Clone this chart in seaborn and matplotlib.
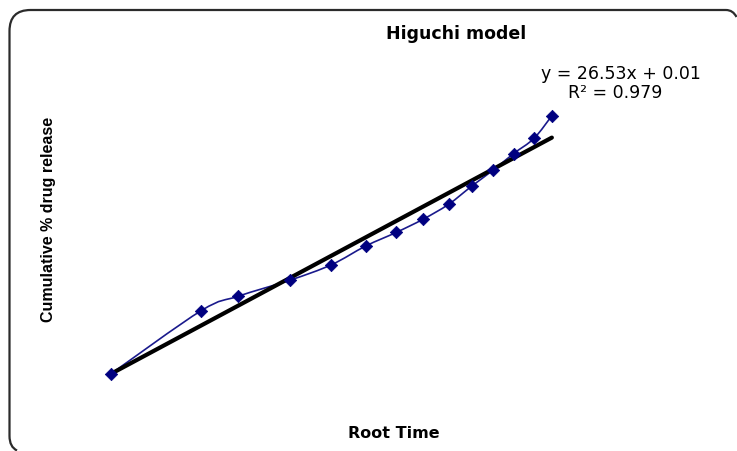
import numpy as np
import matplotlib
matplotlib.use("Agg")
import matplotlib.pyplot as plt
from matplotlib.path import Path
from matplotlib.patches import PathPatch
from matplotlib.transforms import Affine2D
import seaborn as sns
import pandas as pd

# ---- data ----
root_time = [0.0, 0.71, 1.0, 1.41, 1.73, 2.0, 2.24, 2.45, 2.65, 2.83, 3.0, 3.16, 3.32, 3.46]
cum_release = [0.0, 24.6, 30.2, 36.5, 42.4, 49.7, 55.0, 60.1, 65.9, 72.9, 79.2, 85.6, 91.5, 100.3]
slope = 26.53
intercept = 0.01
r2 = 0.979
title = "Higuchi model"
xlabel = "Root Time"
ylabel = "Cumulative % drug release"

sns.set_theme(style="white")
plt.rcParams['font.family'] = ['DejaVu Sans']

W, H = 737, 452
fig = plt.figure(figsize=(W / 100, H / 100), dpi=100)
fig.patch.set_facecolor("white")

ax = fig.add_axes([0, 0, 1, 1])
ax.set_facecolor("none")
# pixel mapping: x0 at 110.7px, 127.5 px/unit ; y0 at 375px from top, 2.575 px/unit
x0, sx = 110.7, 127.5
y0, sy = 375.0, 2.575
ax.set_xlim(-x0 / sx, (W - x0) / sx)
ax.set_ylim((y0 - H) / sy, y0 / sy)
ax.axis("off")

# rounded chart border (only its visible part, pixel coords with origin top-left)
L, T, rr = 9.5, 11.0, 21.0
bverts = [(736.5, 18.0), (733.0, T), (726.0, T),          # top-right corner entering canvas
          (L + rr, T),                                     # top edge
          (L, T), (L, T + rr),                             # top-left corner
          (L, 437.0),                                      # left edge
          (L, 448.0), (17.0, 451.5)]                       # bottom-left corner leaving canvas
bcodes = [Path.MOVETO, Path.CURVE3, Path.CURVE3, Path.LINETO, Path.CURVE3, Path.CURVE3,
          Path.LINETO, Path.CURVE3, Path.CURVE3]
pix = Affine2D().scale(1.0 / W, -1.0 / H).translate(0, 1) + fig.transFigure
ax.add_patch(PathPatch(Path(bverts, bcodes), transform=pix, fill=False, edgecolor="#2b2b2b",
                       linewidth=1.6, clip_on=False))

df = pd.DataFrame({"x": root_time, "y": cum_release})

# smoothed connecting line (Catmull-Rom style, like spreadsheet smoothing)
pts = np.column_stack([root_time, cum_release])
verts = [pts[0]]
codes = [Path.MOVETO]
n = len(pts)
for i in range(n - 1):
    p0 = pts[i - 1] if i > 0 else pts[i]
    p1 = pts[i]
    p2 = pts[i + 1]
    p3 = pts[i + 2] if i + 2 < n else pts[i + 1]
    c1 = p1 + (p2 - p0) / 6.0
    c2 = p2 - (p3 - p1) / 6.0
    verts += [c1, c2, p2]
    codes += [Path.CURVE4] * 3
ax.add_patch(PathPatch(Path(verts, codes), fill=False, edgecolor="#1a1a8c", linewidth=1.2, zorder=2))

# trend line
xs = [min(root_time), max(root_time)]
trend = pd.DataFrame({"x": xs, "y": [slope * v + intercept for v in xs]})
sns.lineplot(data=trend, x="x", y="y", color="black", linewidth=3, ax=ax, zorder=3)

# markers
sns.scatterplot(data=df, x="x", y="y", marker="D", s=40, color="#000080",
                edgecolor="#000080", linewidth=0.5, ax=ax, zorder=4)

ax.set_xlabel("")
ax.set_ylabel("")

def px(x, y):
    return x / W, 1 - y / H

fig.text(*px(456.5, 34), title, ha="center", va="center", fontsize=12.5, fontweight="bold", color="black")
fig.text(*px(620.5, 74), f"y = {slope:.2f}x + {intercept:.2f}", ha="center", va="center",
         fontsize=12.5, color="black")
fig.text(*px(615.5, 93), f"R² = {r2:.3f}", ha="center", va="center", fontsize=12.5, color="black")
fig.text(*px(393.5, 434), xlabel, ha="center", va="center", fontsize=11.5, fontweight="bold", color="black")
fig.text(*px(49, 219), ylabel, ha="center", va="center", rotation=90, fontsize=11.5,
         fontweight="bold", color="black", family=["Liberation Sans", "DejaVu Sans"])

fig.savefig("out.png", dpi=100, facecolor="white")
